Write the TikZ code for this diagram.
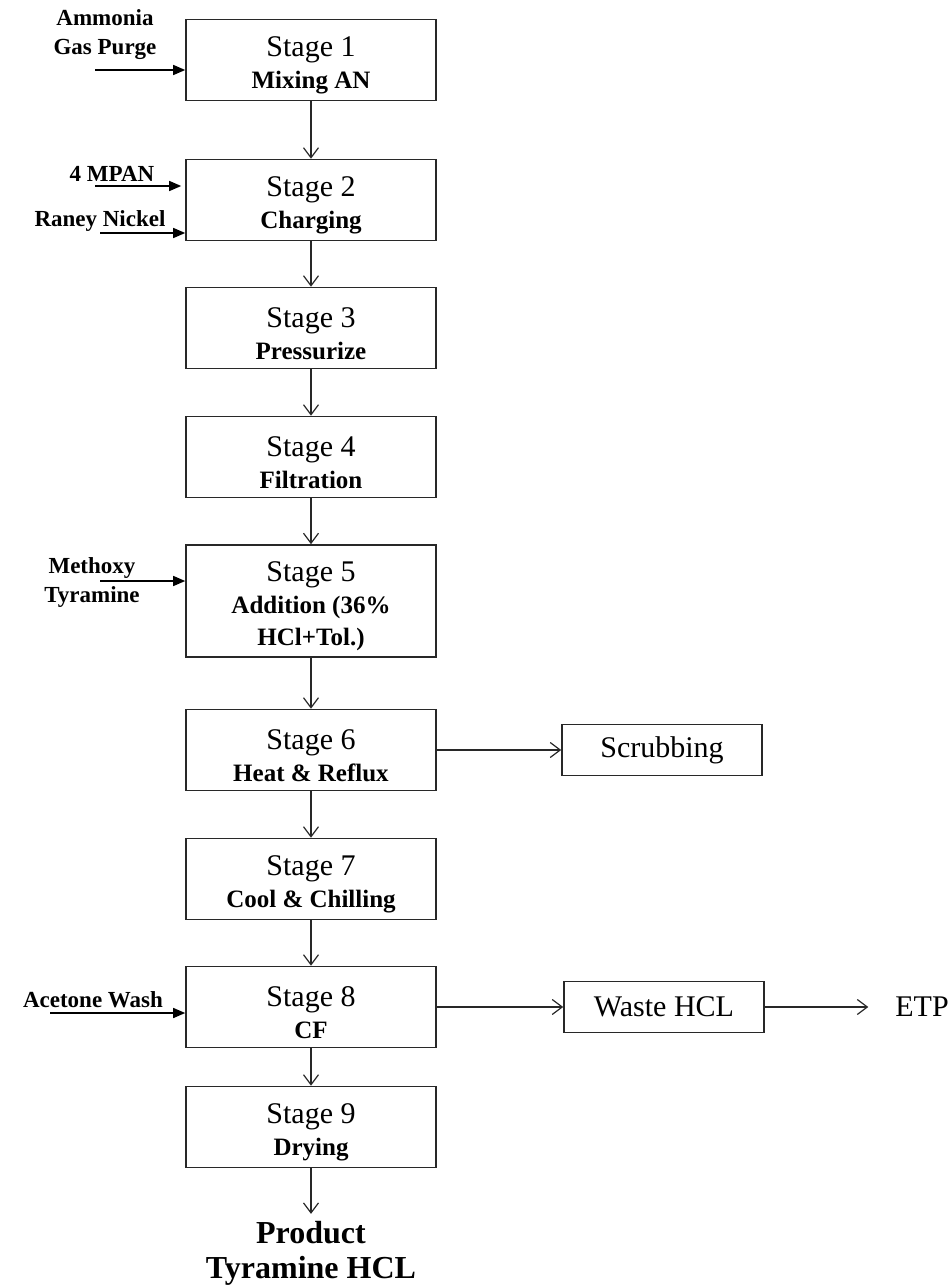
\documentclass[tikz,border=0pt]{standalone}
\usepackage{fontspec}
\setmainfont{Liberation Serif}
\usepackage{tikz}
\usetikzlibrary{arrows.meta,positioning,calc}
\definecolor{trait}{RGB}{40,40,40}
\newcommand{\stg}[1]{\rule{0pt}{15.5pt}Stage #1}
\newcommand{\sublabel}[1]{{\fontsize{12.5}{15.5}\selectfont\bfseries #1}}

\begin{document}
\begin{tikzpicture}[x=0.5pt, y=-0.5pt,
    stagebox/.style={draw=trait, line width=0.8pt, minimum width=125pt, minimum height=40.5pt, align=center, font=\fontsize{15}{16}\selectfont, inner sep=1pt},
    sidebox/.style={draw=trait, line width=0.8pt, minimum width=100pt, minimum height=25.5pt, font=\fontsize{15}{17}\selectfont},
    feedlabel/.style={align=center, font=\fontsize{11.5}{14.5}\selectfont\bfseries},
    flow/.style={draw=trait, line width=0.6pt, -{Straight Barb[length=5pt, width=7.5pt]}},
    feed/.style={draw=black, line width=0.7pt, -{Triangle[length=6pt, width=5pt]}}]
    \useasboundingbox (0,0) rectangle (952,1285);

    % Etapes
    \node[stagebox] (s1) at (311,60) {\stg{1}\\\sublabel{Mixing AN}};
    \node[stagebox] (s2) at (311,200) {\stg{2}\\\sublabel{Charging}};
    \node[stagebox] (s3) at (311,328) {\stg{3}\\\sublabel{Pressurize}};
    \node[stagebox] (s4) at (311,457) {\stg{4}\\\sublabel{Filtration}};
    \node[stagebox, minimum height=56pt] (s5) at (311,601) {\stg{5}\\\sublabel{Addition (36\%}\\\sublabel{HCl+Tol.)}};
    \node[stagebox] (s6) at (311,750) {\stg{6}\\\sublabel{Heat \& Reflux}};
    \node[stagebox] (s7) at (311,879) {\stg{7}\\\sublabel{Cool \& Chilling}};
    \node[stagebox] (s8) at (311,1007) {\stg{8}\\\sublabel{CF}};
    \node[stagebox] (s9) at (311,1127) {\stg{9}\\\sublabel{Drying}};

    % Flux principal
    \foreach \a/\b in {s1/s2, s2/s3, s3/s4, s4/s5, s5/s6, s6/s7, s7/s8, s8/s9}
        \draw[flow] (\a) -- (\b);

    % Produit
    \node[align=center, font=\fontsize{16}{17.5}\selectfont\bfseries] (prod) at (311,1253) {Product\\Tyramine HCL};
    \draw[flow] (s9) -- (prod);

    % Sorties
    \node[sidebox] (scrub) at (662,750) {Scrubbing};
    \draw[flow] (s6) -- (scrub);
    \node[sidebox] (waste) at (664,1007) {Waste HCL};
    \draw[flow] (s8) -- (waste);
    \node[font=\fontsize{15}{17}\selectfont] (etp) at (922,1007) {ETP};
    \draw[flow, shorten >=10pt] (waste) -- (etp);

    % Entrees
    \node[feedlabel] (ammo) at (105,35) {Ammonia\\Gas Purge};
    \coordinate (inammo) at (95,70);
    \draw[feed] (inammo) -- (s1.west |- inammo);

    \node[feedlabel] (mpan) at (112,174) {4 MPAN};
    \coordinate (inmpan) at (95,186);
    \draw[feed] (inmpan) -- ($(s2.west |- inmpan)+(-2pt,0)$);

    \node[feedlabel] (raney) at (100,221) {Raney Nickel};
    \coordinate (inraney) at (100,233);
    \draw[feed] (inraney) -- (s2.west |- inraney);

    \node[feedlabel] (metho) at (92,582) {Methoxy\\Tyramine};
    \coordinate (inmetho) at (100,581);
    \draw[feed] (inmetho) -- (s5.west |- inmetho);

    \node[feedlabel] (acet) at (93,1000) {Acetone Wash};
    \coordinate (inacet) at (50,1013);
    \draw[feed] (inacet) -- (s8.west |- inacet);
\end{tikzpicture}
\end{document}
